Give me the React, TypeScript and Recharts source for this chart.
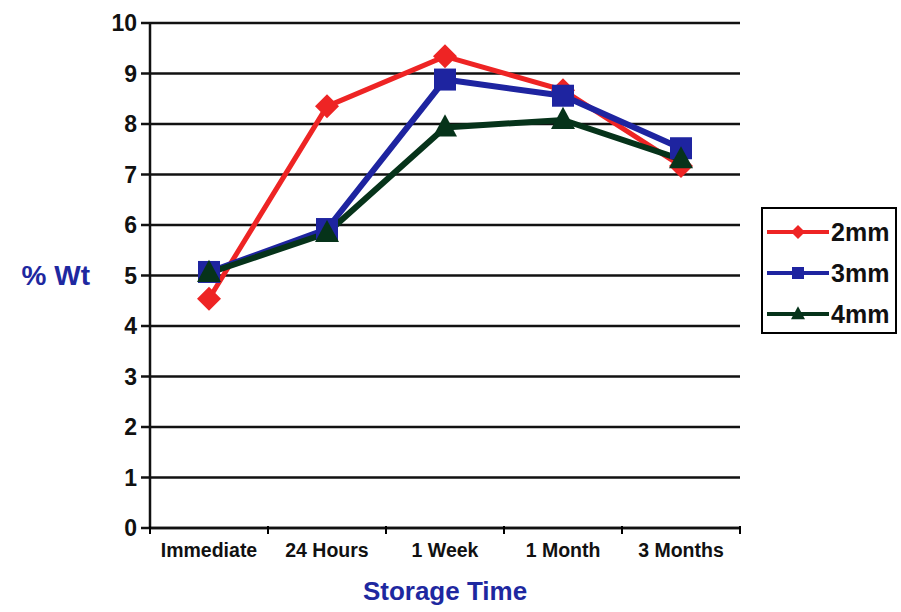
import React from "react";
import { LineChart, Line, XAxis, YAxis, CartesianGrid } from "recharts";

const categories = ["Immediate", "24 Hours", "1 Week", "1 Month", "3 Months"];
const series2mm = [4.54, 8.35, 9.34, 8.67, 7.17];
const series3mm = [5.07, 5.92, 8.88, 8.56, 7.52];
const series4mm = [5.05, 5.84, 7.93, 8.08, 7.3];
const yTicks = [0, 1, 2, 3, 4, 5, 6, 7, 8, 9, 10];
const seriesNames = ["2mm", "3mm", "4mm"];

const data = categories.map((c, i) => ({
  name: c,
  s2: series2mm[i],
  s3: series3mm[i],
  s4: series4mm[i],
}));

const RED = "#ee2424";
const BLUE = "#1e24a0";
const GREEN = "#06331a";
const FONT = "'Liberation Sans', Arial, sans-serif";

const PLOT_LEFT = 150;
const PLOT_RIGHT = 740;
const HALF_BAND = (PLOT_RIGHT - PLOT_LEFT) / categories.length / 2;

const Diamond = (props: any) => {
  const { cx, cy, r = 11, color } = props;
  if (cx == null || cy == null) return null;
  return (
    <polygon
      points={`${cx},${cy - r} ${cx + r},${cy} ${cx},${cy + r} ${cx - r},${cy}`}
      fill={color}
    />
  );
};
const Square = (props: any) => {
  const { cx, cy, r = 10, color } = props;
  if (cx == null || cy == null) return null;
  return <rect x={cx - r} y={cy - r} width={2 * r} height={2 * r} fill={color} />;
};
const Triangle = (props: any) => {
  const { cx, cy, r = 11, color } = props;
  if (cx == null || cy == null) return null;
  return (
    <polygon
      points={`${cx},${cy - r * 1.1} ${cx + r},${cy + r * 0.75} ${cx - r},${cy + r * 0.75}`}
      fill={color}
    />
  );
};

const XTick = (props: any) => {
  const { x, y, payload, index } = props;
  const axisY = y - 10;
  return (
    <g>
      <line x1={x - HALF_BAND} x2={x - HALF_BAND} y1={axisY} y2={axisY + 8} stroke="#000" strokeWidth={2} />
      {index === categories.length - 1 && (
        <line x1={x + HALF_BAND} x2={x + HALF_BAND} y1={axisY} y2={axisY + 8} stroke="#000" strokeWidth={2} />
      )}
      <text x={x} y={y + 21} textAnchor="middle" fontFamily={FONT} fontWeight="bold" fontSize={19.5} fill="#111">
        {payload.value}
      </text>
    </g>
  );
};

const legendItems = [
  { name: seriesNames[0], color: RED, shape: "diamond" },
  { name: seriesNames[1], color: BLUE, shape: "square" },
  { name: seriesNames[2], color: GREEN, shape: "triangle" },
];

const CustomLegend = () => (
  <svg width={136} height={127}>
    <rect x={1} y={1} width={134} height={125} fill="#fff" stroke="#000" strokeWidth={2} />
    {legendItems.map((it, i) => {
      const cy = 25 + i * 41;
      return (
        <g key={it.name}>
          <line x1={6} x2={68} y1={cy} y2={cy} stroke={it.color} strokeWidth={4} />
          {it.shape === "diamond" && <Diamond cx={37} cy={cy} r={7} color={it.color} />}
          {it.shape === "square" && <Square cx={37} cy={cy} r={6} color={it.color} />}
          {it.shape === "triangle" && <Triangle cx={37} cy={cy} r={7} color={it.color} />}
          <text x={70} y={cy + 9} fontFamily={FONT} fontWeight="bold" fontSize={25} fill="#111">
            {it.name}
          </text>
        </g>
      );
    })}
  </svg>
);

export default function App() {
  return (
    <div style={{ position: "absolute", left: 0, top: 0, width: 901, height: 612, background: "#fff" }}>
      <LineChart
        width={901}
        height={612}
        data={data}
        margin={{ top: 23, right: 161, bottom: 44, left: 100 }}
      >
        <CartesianGrid vertical={false} stroke="#111" strokeWidth={2.5} />
        <XAxis
          dataKey="name"
          padding={{ left: HALF_BAND, right: HALF_BAND }}
          height={40}
          stroke="#111"
          strokeWidth={2.5}
          tickLine={false}
          tick={<XTick />}
          interval={0}
          label={{
            value: "Storage Time",
            position: "bottom",
            offset: 14,
            fill: "#1e28a0",
            fontFamily: FONT,
            fontWeight: "bold",
            fontSize: 26,
          }}
        />
        <YAxis
          domain={[0, 10]}
          ticks={yTicks}
          interval={0}
          width={50}
          stroke="#111"
          strokeWidth={2.5}
          tickSize={9}
          tickMargin={4}
          tick={{ fill: "#111", fontFamily: FONT, fontWeight: "bold", fontSize: 23 }}
          label={{
            value: "% Wt",
            position: "left",
            offset: 10,
            fill: "#1e28a0",
            fontFamily: FONT,
            fontWeight: "bold",
            fontSize: 28,
          }}
        />
        <YAxis
          yAxisId="right"
          orientation="right"
          domain={[0, 10]}
          width={0}
          tick={false}
          tickLine={false}
          stroke="#111"
          strokeWidth={2.5}
        />
        <Line
          dataKey="s2"
          name={seriesNames[0]}
          stroke={RED}
          strokeWidth={5}
          isAnimationActive={false}
          dot={(p: any) => <Diamond key={`d2-${p.index}`} cx={p.cx} cy={p.cy} r={12} color={RED} />}
        />
        <Line
          dataKey="s3"
          name={seriesNames[1]}
          stroke={BLUE}
          strokeWidth={6}
          isAnimationActive={false}
          dot={(p: any) => <Square key={`d3-${p.index}`} cx={p.cx} cy={p.cy} r={11} color={BLUE} />}
        />
        <Line
          dataKey="s4"
          name={seriesNames[2]}
          stroke={GREEN}
          strokeWidth={6}
          isAnimationActive={false}
          dot={(p: any) => <Triangle key={`d4-${p.index}`} cx={p.cx} cy={p.cy} r={12} color={GREEN} />}
        />
      </LineChart>
      <div style={{ position: "absolute", left: 761, top: 207, width: 136, height: 127 }}>
        <CustomLegend />
      </div>
    </div>
  );
}
